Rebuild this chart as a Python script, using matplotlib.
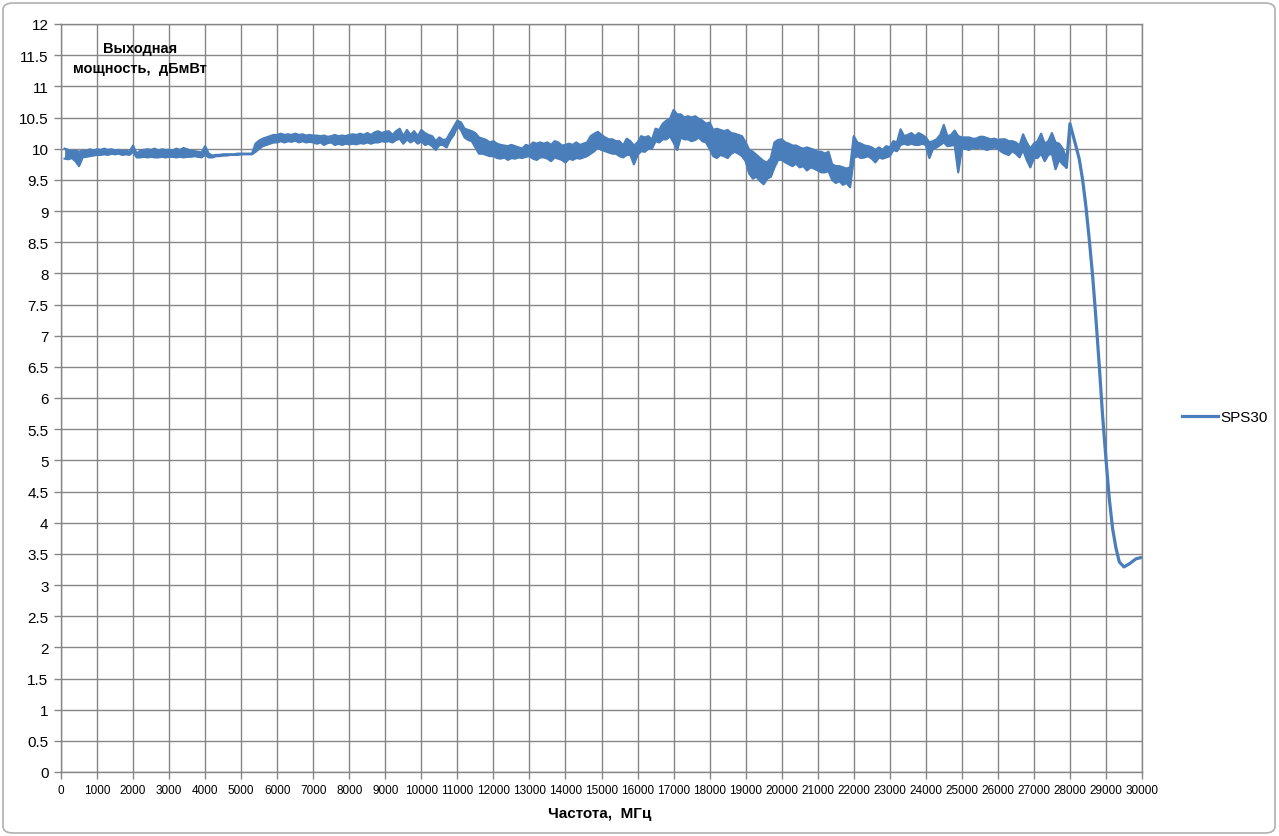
import matplotlib
matplotlib.use('Agg')
import matplotlib.pyplot as plt
from matplotlib.patches import FancyBboxPatch
from matplotlib.lines import Line2D
import numpy as np

# SPS30 output power vs frequency: noisy band read off as upper / lower
# envelope every 100 MHz from 100 to 27900 MHz
freq_band = np.arange(100, 28000, 100)
power_upper = [
    10.0, 9.98, 9.96, 9.97, 9.95, 9.97, 9.96, 9.99, 9.97, 9.99,
    9.98, 10.0, 9.98, 9.99, 9.97, 9.98, 9.96, 9.97, 9.95, 10.05,
    9.92, 9.97, 9.98, 9.99, 9.98, 10.0, 9.97, 9.99, 9.98, 9.98,
    9.97, 10.0, 9.98, 10.01, 9.99, 9.97, 9.96, 9.95, 9.94, 10.04,
    9.92, 9.89, 9.9, 9.9, 9.91, 9.91, 9.91, 9.91, 9.92, 9.92,
    9.92, 9.92, 9.92, 10.08, 10.13, 10.16, 10.18, 10.2, 10.22, 10.22,
    10.24, 10.22, 10.23, 10.22, 10.24, 10.22, 10.23, 10.21, 10.22, 10.21,
    10.21, 10.2, 10.21, 10.19, 10.2, 10.22, 10.2, 10.21, 10.2, 10.22,
    10.23, 10.22, 10.24, 10.22, 10.25, 10.22, 10.26, 10.28, 10.25, 10.27,
    10.28, 10.22, 10.28, 10.32, 10.2, 10.3, 10.22, 10.28, 10.2, 10.3,
    10.25, 10.22, 10.2, 10.12, 10.18, 10.14, 10.15, 10.25, 10.35, 10.45,
    10.42, 10.32, 10.3, 10.28, 10.25, 10.18, 10.16, 10.14, 10.1, 10.12,
    10.08, 10.06, 10.05, 10.04, 10.06, 10.04, 10.02, 10.0, 10.06, 10.04,
    10.1, 10.08, 10.1, 10.08, 10.1, 10.06, 10.12, 10.1, 10.05, 10.06,
    10.08, 10.06, 10.1, 10.06, 10.08, 10.1, 10.2, 10.24, 10.27, 10.22,
    10.18, 10.15, 10.15, 10.12, 10.12, 10.05, 10.16, 10.12, 10.05, 10.1,
    10.2, 10.18, 10.2, 10.14, 10.32, 10.3, 10.4, 10.45, 10.48, 10.62,
    10.55, 10.55, 10.5, 10.52, 10.5, 10.52, 10.48, 10.45, 10.4, 10.42,
    10.3, 10.32, 10.3, 10.28, 10.3, 10.25, 10.24, 10.22, 10.2, 10.1,
    9.98, 9.95, 9.9, 9.85, 9.8, 9.78, 9.85, 10.1, 10.14, 10.15,
    10.1, 10.08, 10.05, 10.05, 10.02, 10.0, 10.02, 10.0, 9.98, 9.95,
    9.95, 9.92, 9.95, 9.75, 9.72, 9.72, 9.7, 9.68, 9.7, 10.2,
    10.1, 10.08, 10.05, 10.04, 10.02, 9.98, 10.02, 9.98, 10.04, 10.02,
    10.12, 10.1, 10.31, 10.2, 10.22, 10.25, 10.2, 10.25, 10.22, 10.18,
    10.1, 10.12, 10.15, 10.22, 10.38, 10.2, 10.22, 10.29, 10.2, 10.18,
    10.18, 10.18, 10.16, 10.16, 10.19, 10.19, 10.17, 10.15, 10.16, 10.14,
    10.15, 10.15, 10.12, 10.12, 10.1, 10.05, 10.23, 10.1, 10.0, 10.08,
    10.12, 10.24, 10.08, 10.12, 10.25, 10.1, 10.08, 10.0, 9.85,
]
power_lower = [
    9.84, 9.83, 9.85, 9.8, 9.72, 9.86, 9.87, 9.88, 9.89, 9.9,
    9.9, 9.91, 9.9, 9.92, 9.91, 9.92, 9.9, 9.91, 9.9, 9.95,
    9.86, 9.86, 9.87, 9.86, 9.87, 9.86, 9.86, 9.87, 9.86, 9.87,
    9.87, 9.86, 9.87, 9.86, 9.87, 9.87, 9.88, 9.87, 9.86, 9.9,
    9.86, 9.86, 9.88, 9.88, 9.89, 9.89, 9.9, 9.9, 9.9, 9.91,
    9.91, 9.91, 9.91, 9.95, 10.0, 10.04, 10.06, 10.08, 10.1, 10.1,
    10.12, 10.1, 10.12, 10.11, 10.13, 10.1, 10.12, 10.1, 10.11, 10.1,
    10.08, 10.1, 10.06, 10.09, 10.1, 10.06, 10.08, 10.06, 10.08, 10.07,
    10.08, 10.07, 10.09, 10.08, 10.1, 10.08, 10.1, 10.1, 10.12, 10.11,
    10.12, 10.1, 10.14, 10.16, 10.08, 10.15, 10.1, 10.14, 10.08, 10.12,
    10.06, 10.08, 10.04, 9.98, 10.06, 10.06, 10.02, 10.14, 10.22, 10.36,
    10.3, 10.18, 10.14, 10.12, 10.02, 9.92, 9.92, 9.9, 9.88, 9.88,
    9.85, 9.84, 9.86, 9.82, 9.85, 9.84, 9.86, 9.85, 9.87, 9.88,
    9.84, 9.82, 9.86, 9.86, 9.84, 9.8, 9.86, 9.84, 9.82, 9.78,
    9.84, 9.82, 9.85, 9.84, 9.86, 9.88, 9.92, 9.96, 10.02, 9.98,
    9.96, 9.94, 9.92, 9.92, 9.88, 9.86, 9.9, 9.9, 9.75, 9.9,
    9.96, 9.95, 10.0, 10.0, 10.12, 10.1, 10.15, 10.15, 10.2, 10.1,
    9.98, 10.18, 10.15, 10.15, 10.12, 10.14, 10.18, 10.12, 10.1, 10.0,
    9.88, 9.85, 9.9, 9.88, 9.85, 9.92, 9.95, 9.92, 9.88, 9.8,
    9.6, 9.52, 9.55, 9.48, 9.43, 9.52, 9.55, 9.7, 9.82, 9.82,
    9.78, 9.75, 9.72, 9.76, 9.7, 9.72, 9.65, 9.7, 9.68, 9.65,
    9.62, 9.62, 9.64, 9.5, 9.45, 9.48, 9.42, 9.45, 9.38, 9.85,
    9.88, 9.85, 9.86, 9.88, 9.84, 9.78, 9.86, 9.84, 9.86, 9.88,
    9.98, 9.96, 10.06, 10.08, 10.06, 10.08, 10.06, 10.06, 10.08, 10.06,
    9.85, 10.0, 10.02, 10.06, 10.1, 10.04, 10.05, 10.06, 9.62, 10.0,
    10.0, 9.98, 10.02, 10.0, 10.02, 10.0, 9.98, 10.0, 10.02, 10.0,
    9.95, 9.92, 9.9, 9.96, 9.92, 9.86, 9.98, 9.82, 9.7, 9.85,
    9.85, 9.92, 9.8, 9.9, 9.92, 9.67, 9.82, 9.75, 9.7,
]

# roll-off above 28 GHz
freq_roll = [28000, 28167, 28260, 28352, 28444, 28537, 28630, 28722, 28815,
             28907, 29000, 29093, 29185, 29278, 29370, 29500, 29650, 29833, 29972]
power_roll = [10.4, 10.04, 9.83, 9.5, 9.07, 8.54, 7.96, 7.27, 6.51,
              5.71, 5.02, 4.38, 3.9, 3.59, 3.37, 3.29, 3.34, 3.42, 3.44]

xticks = list(range(0, 30001, 1000))
yticks = [i * 0.5 for i in range(25)]

plt.rcParams['font.family'] = ['Liberation Sans Narrow', 'Liberation Sans', 'DejaVu Sans']

fig = plt.figure(figsize=(12.79, 8.37), dpi=100)
ax = fig.add_axes([61 / 1279, 64 / 837, 1081 / 1279, 748 / 837])

line_c = '#4a7ebb'
ax.fill_between(freq_band, power_lower, power_upper, color=line_c, lw=0)
ax.plot(freq_band, power_upper, color=line_c, lw=1.6)
ax.plot(freq_band, power_lower, color=line_c, lw=1.6)
ax.plot([freq_band[-1]] + freq_roll, [power_lower[-1]] + power_roll, color=line_c, lw=2.3,
        solid_joinstyle='round', solid_capstyle='round')

grid_c = '#868686'
ax.set_xlim(0, 30000)
ax.set_ylim(0, 12)
ax.set_xticks(xticks)
ax.set_yticks(yticks)
ax.set_xticklabels([str(t) for t in xticks], fontsize=8.5)
ax.set_yticklabels(['%g' % t for t in yticks], fontsize=11)
ax.grid(True, color=grid_c, lw=1.0)
ax.set_axisbelow(True)
for s in ax.spines.values():
    s.set_color(grid_c)
    s.set_linewidth(1.0)
ax.tick_params(axis='both', colors=grid_c, length=5, width=1.0, labelcolor='black')
ax.tick_params(axis='x', pad=4)
ax.tick_params(axis='y', pad=4)

fig.text(140 / 1279, 1 - 59 / 837, 'Выходная\nмощность,  дБмВт', ha='center', va='center',
         fontsize=10.5, fontweight='bold', family=['Liberation Sans', 'DejaVu Sans'], linespacing=1.6)
fig.text(600 / 1279, 1 - 814 / 837, 'Частота,  МГц', ha='center', va='center',
         fontsize=11, fontweight='bold', family=['Liberation Sans', 'DejaVu Sans'])

handle = Line2D([], [], color=line_c, lw=2.3)
leg = fig.legend([handle], ['SPS30'], loc='center left', bbox_to_anchor=(1168 / 1279, 1 - 418 / 837),
                 frameon=False, fontsize=11, handlelength=2.4, handletextpad=0.1)
for t in leg.get_texts():
    t.set_family(['Liberation Sans', 'DejaVu Sans'])

frame = FancyBboxPatch((3 / 1279, 3 / 837), 1272 / 1279, 830 / 837,
                       boxstyle='round,pad=0,rounding_size=0.008', transform=fig.transFigure,
                       fill=False, edgecolor='#b0b0b0', lw=1.2)
fig.patches.append(frame)

fig.savefig('out.png', dpi=100)
